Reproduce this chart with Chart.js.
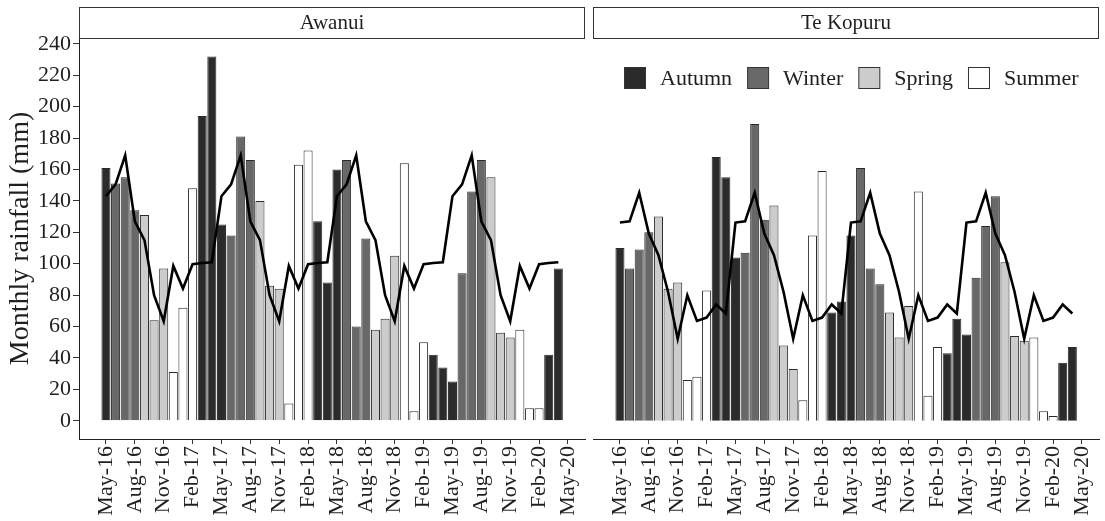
<!DOCTYPE html>
<html><head><meta charset="utf-8">
<script src="https://cdn.jsdelivr.net/npm/chart.js@4.4.1/dist/chart.umd.min.js"></script>
<style>
html,body{margin:0;padding:0;background:#fff;width:1105px;height:521px;overflow:hidden}
canvas{position:absolute;top:0}
#cA{left:0}
#cB{left:586px}
</style></head><body>
<canvas id="cA" width="590" height="521"></canvas>
<canvas id="cB" width="519" height="521"></canvas>
<script>
// ---- data ----
const months = ["May-16","Jun-16","Jul-16","Aug-16","Sep-16","Oct-16","Nov-16","Dec-16","Jan-17","Feb-17","Mar-17","Apr-17",
  "May-17","Jun-17","Jul-17","Aug-17","Sep-17","Oct-17","Nov-17","Dec-17","Jan-18","Feb-18","Mar-18","Apr-18",
  "May-18","Jun-18","Jul-18","Aug-18","Sep-18","Oct-18","Nov-18","Dec-18","Jan-19","Feb-19","Mar-19","Apr-19",
  "May-19","Jun-19","Jul-19","Aug-19","Sep-19","Oct-19","Nov-19","Dec-19","Jan-20","Feb-20","Mar-20","Apr-20"];
const tickLabels = ["May-16","Aug-16","Nov-16","Feb-17","May-17","Aug-17","Nov-17","Feb-18","May-18","Aug-18","Nov-18","Feb-19","May-19","Aug-19","Nov-19","Feb-20","May-20"];
const yTicks = [0,20,40,60,80,100,120,140,160,180,200,220,240];
const seasons = ["Autumn","Winter","Spring","Summer"];
const seasonColors = ["#2b2b2b","#686868","#cccccc","#ffffff"];
const monthSeason = {Mar:0,Apr:0,May:0,Jun:1,Jul:1,Aug:1,Sep:2,Oct:2,Nov:2,Dec:3,Jan:3,Feb:3};

const awanuiRain = [161,151,155,134,131,64,97,31,72,148,194,232,
  125,118,181,166,140,86,84,11,163,172,127,88,
  160,166,60,116,58,65,105,164,6,50,42,34,
  25,94,146,166,155,56,53,58,8,8,42,97];
const awanuiMean = [143,150.5,169,127,115,80,63.4,98.6,84.2,99.7,100.5,100.9,
  143,150.5,169,127,115,80,63.4,98.6,84.2,99.7,100.5,100.9,
  143,150.5,169,127,115,80,63.4,98.6,84.2,99.7,100.5,100.9,
  143,150.5,169,127,115,80,63.4,98.6,84.2,99.7,100.5,100.9];
const tekopuruRain = [110,97,109,120,130,84,88,26,28,83,168,155,
  104,107,189,128,137,48,33,13,118,159,69,76,
  118,161,97,87,69,53,73,146,16,47,43,65,
  55,91,124,143,101,54,51,53,6,3,37,47];
const tekopuruMean = [126.2,127,145.2,119.2,105.4,82,52.2,79.9,63.6,65.7,74,68.3,
  126.2,127,145.2,119.2,105.4,82,52.2,79.9,63.6,65.7,74,68.3,
  126.2,127,145.2,119.2,105.4,82,52.2,79.9,63.6,65.7,74,68.3,
  126.2,127,145.2,119.2,105.4,82,52.2,79.9,63.6,65.7,74,68.3];

// ---- styling ----
const FONT = "'Liberation Serif','Times New Roman',serif";
const TXT = "#1f1f1f";
const AXIS = "#222222";
const barColors = months.map(m => seasonColors[monthSeason[m.slice(0,3)]]);

function stripPlugin(label){
  return {
    id:'strip',
    afterDraw(chart){
      const {ctx, chartArea:a} = chart;
      ctx.save();
      ctx.fillStyle = '#fff';
      ctx.strokeStyle = '#333';
      ctx.lineWidth = 1;
      ctx.fillRect(a.left, 7.5, a.right - a.left, 31);
      ctx.strokeRect(a.left + 0.5, 7.5, a.right - a.left - 1, 31);
      ctx.fillStyle = TXT;
      ctx.font = "21px " + FONT;
      ctx.textAlign = 'center';
      ctx.textBaseline = 'middle';
      ctx.fillText(label, (a.left + a.right)/2, 23.5);
      ctx.restore();
    }
  };
}

const legendPlugin = {
  id:'seasonLegend',
  afterDraw(chart){
    const ctx = chart.ctx;
    ctx.save();
    ctx.font = "22px " + FONT;
    ctx.textBaseline = 'middle';
    ctx.textAlign = 'left';
    let x = 624.5 - 586;
    const y = 67.5, s = 21;
    seasons.forEach((name, i) => {
      ctx.fillStyle = seasonColors[i];
      ctx.fillRect(x, y, s, s);
      ctx.strokeStyle = '#333';
      ctx.lineWidth = 1;
      ctx.strokeRect(x, y, s, s);
      x += s + 14.5;
      ctx.fillStyle = TXT;
      ctx.fillText(name, x, y + s/2 + 1);
      x += ctx.measureText(name).width + 15.5;
    });
    ctx.restore();
  }
};

function makeChart(id, rain, mean, label, isLeft){
  const xScale = {
    type:'linear', min:-2.8, max:49.77, offset:false,
    grid:{display:true, drawOnChartArea:false, offset:false, tickLength:5, color:'#333', lineWidth:1},
    border:{display:true, color:AXIS, width:1},
    afterBuildTicks(s){ s.ticks = tickLabels.map((t,i)=>({value:i*3})); },
    afterFit(s){ s.height = 82; s.paddingLeft = 0; s.paddingRight = 0; },
    ticks:{
      autoSkip:false, maxRotation:90, minRotation:90, padding:2,
      color:TXT, font:{family:FONT, size:22},
      callback:(v,i)=>tickLabels[i]
    }
  };
  const yScale = {
    type:'linear', min:-11.6, max:243.7,
    display:isLeft,
    grid:{display:true, drawOnChartArea:false, tickLength:6, color:'#333', lineWidth:1},
    border:{display:true, color:AXIS, width:1},
    afterBuildTicks(s){ s.ticks = yTicks.map(v=>({value:v})); },
    afterFit(s){ s.width = isLeft ? 79 : 0; s.paddingTop = 0; s.paddingBottom = 0; },
    ticks:{color:TXT, font:{family:FONT, size:22}, padding:2},
    title:{display:true, text:'Monthly rainfall (mm)', color:TXT, font:{family:FONT, size:28}, padding:{top:4, bottom:0}}
  };
  return new Chart(document.getElementById(id), {
    type:'bar',
    data:{
      datasets:[
        {type:'line', data:mean.map((v,i)=>({x:i,y:v})), borderColor:'#000', borderWidth:2.6,
         pointRadius:0, tension:0, fill:false, order:0},
        {type:'bar', data:rain.map((v,i)=>({x:i,y:v})), backgroundColor:barColors,
         borderColor:'#2a2a2a', borderWidth:1, barPercentage:0.94, categoryPercentage:1.0, order:1}
      ]
    },
    options:{
      responsive:false, animation:false, events:[], devicePixelRatio:1,
      layout:{padding: isLeft ? {left:0, top:38, right:5, bottom:0} : {left:7, top:38, right:6, bottom:0}},
      plugins:{legend:{display:false}, tooltip:{enabled:false}},
      scales:{x:xScale, y:yScale}
    },
    plugins: isLeft ? [stripPlugin(label)] : [stripPlugin(label), legendPlugin]
  });
}

makeChart('cA', awanuiRain, awanuiMean, 'Awanui', true);
makeChart('cB', tekopuruRain, tekopuruMean, 'Te Kopuru', false);
</script>
</body></html>
